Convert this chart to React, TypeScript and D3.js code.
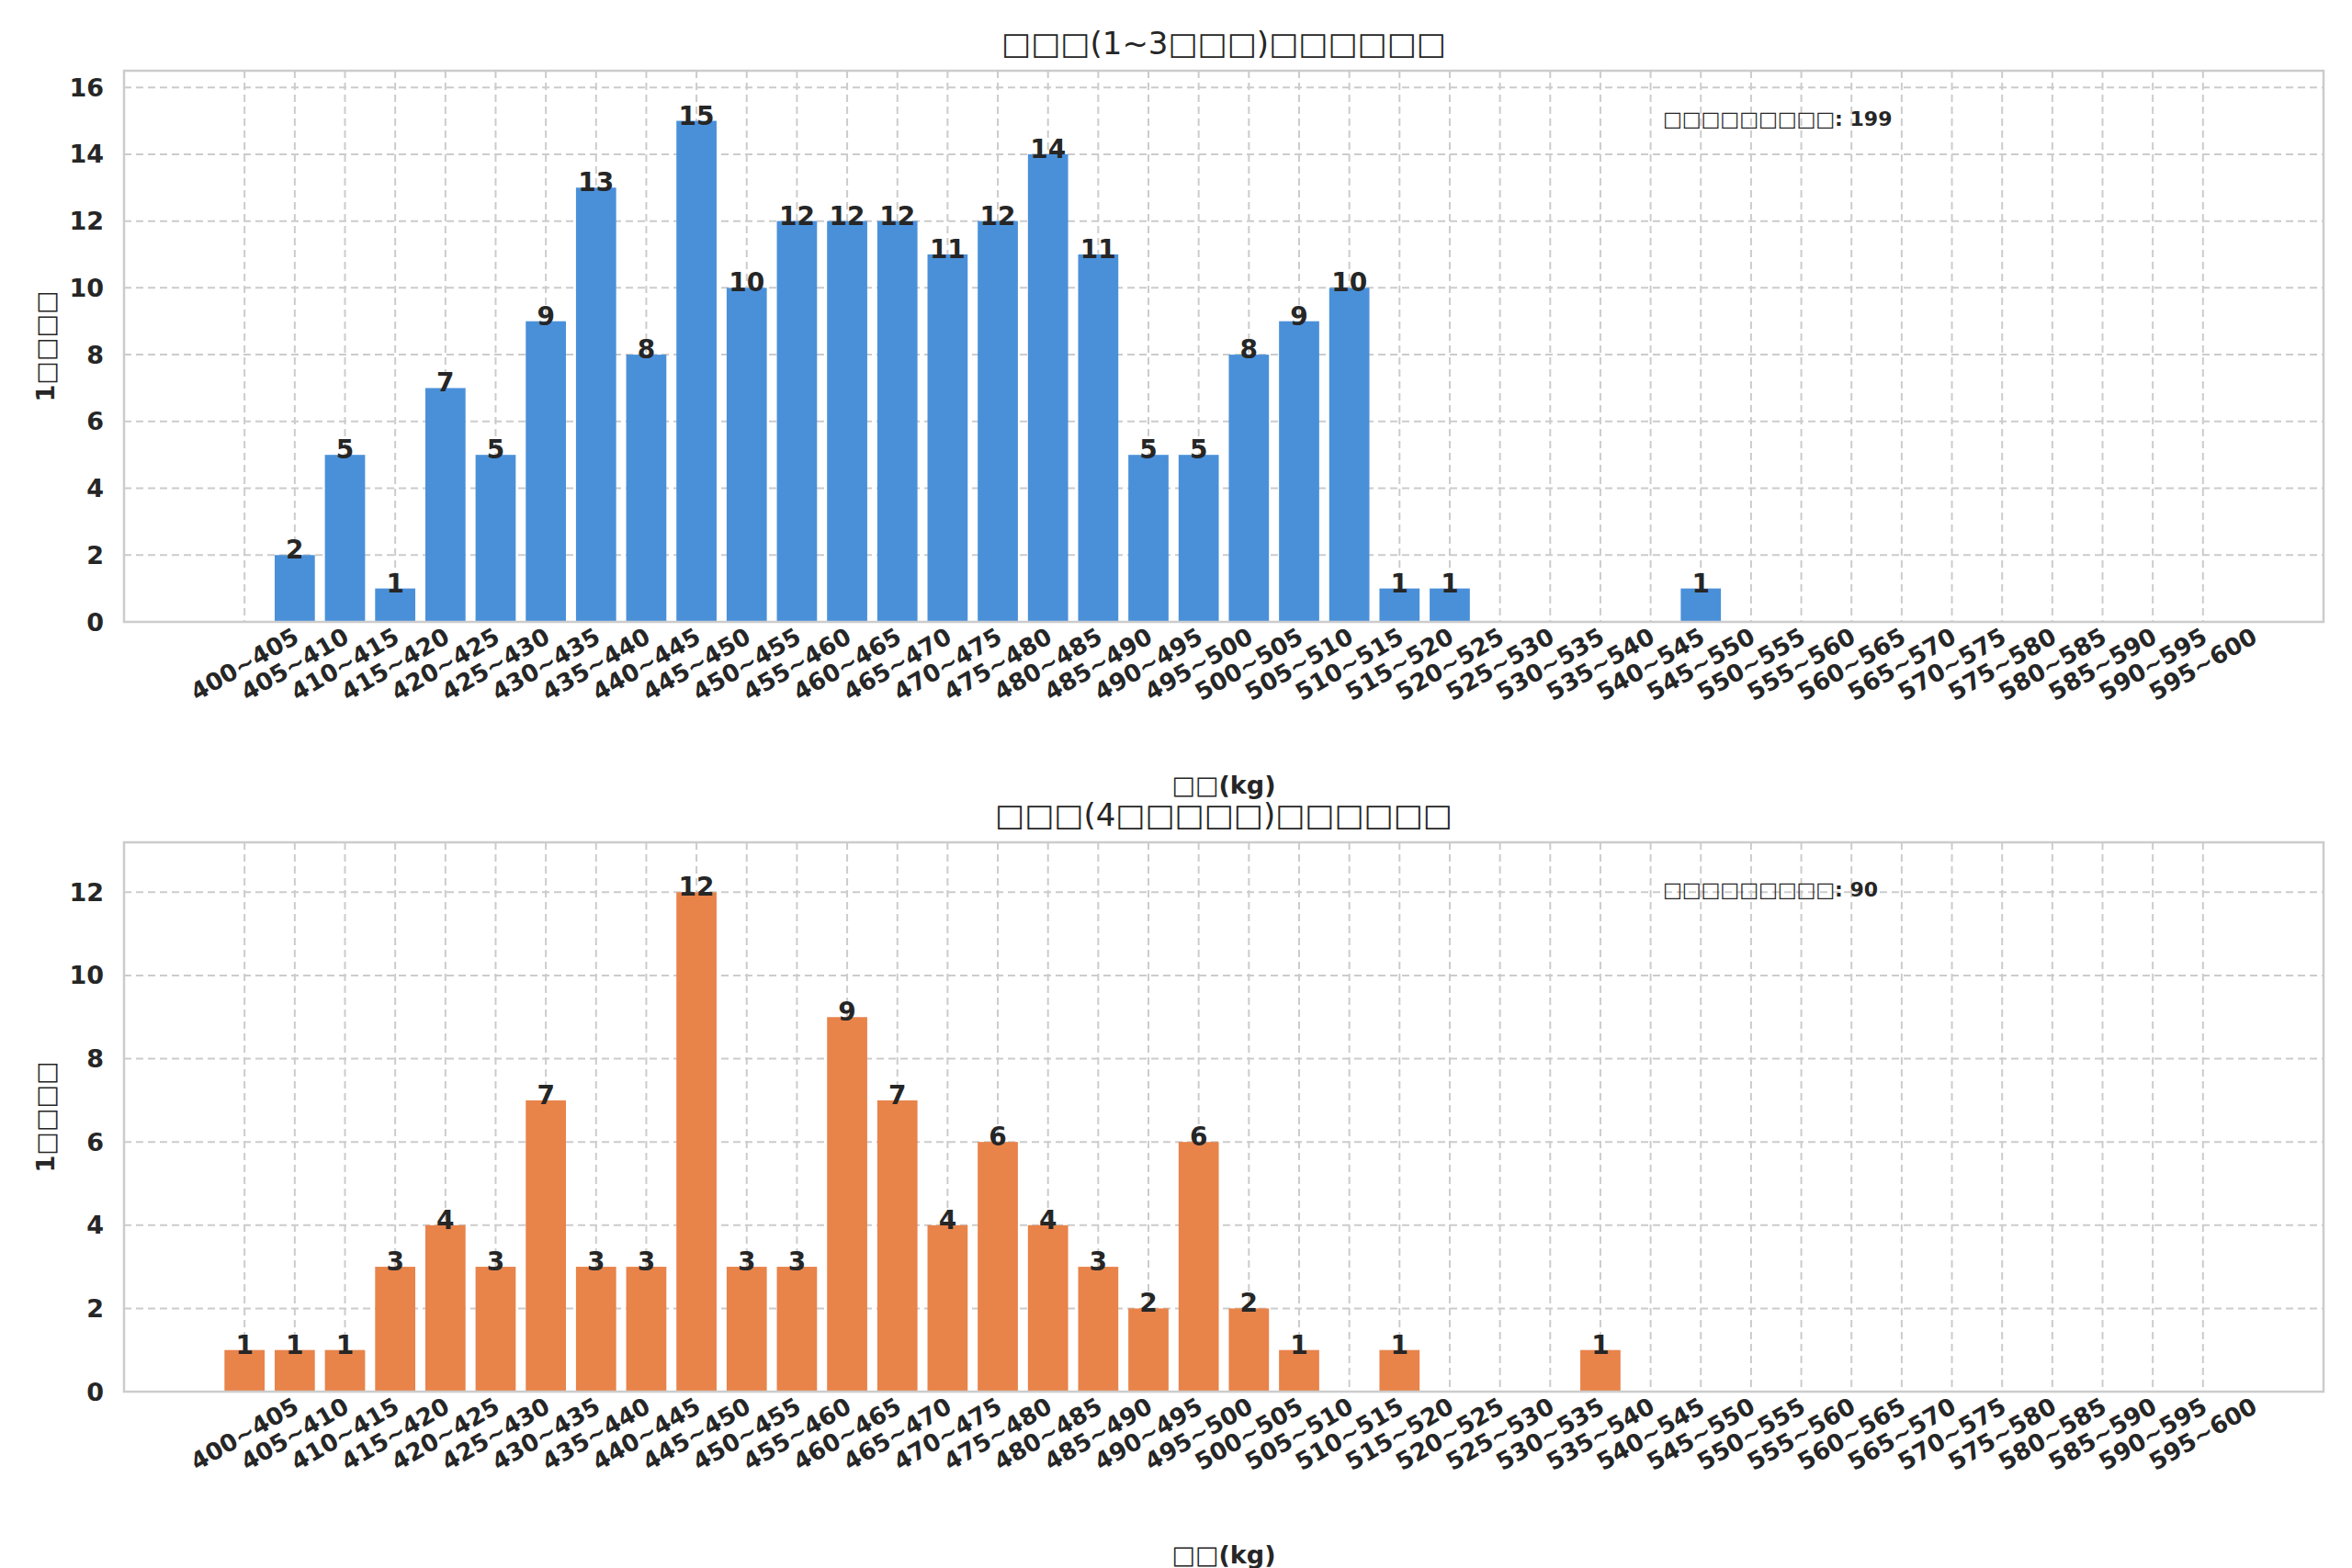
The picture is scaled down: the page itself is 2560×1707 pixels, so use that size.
import React from "react";
import * as d3 from "d3";

const categories: string[] = d3.range(40).map((i) => `${400 + i * 5}~${405 + i * 5}`);
const topValues: number[] = [0,2,5,1,7,5,9,13,8,15,10,12,12,12,11,12,14,11,5,5,8,9,10,1,1,0,0,0,0,1,0,0,0,0,0,0,0,0,0,0];
const bottomValues: number[] = [1,1,1,3,4,3,7,3,3,12,3,3,9,7,4,6,4,3,2,6,2,1,0,1,0,0,0,1,0,0,0,0,0,0,0,0,0,0,0,0];
const topYTicks = [0,2,4,6,8,10,12,14,16];
const bottomYTicks = [0,2,4,6,8,10,12];
const T = "\u25A1";
const box = (n: number) => T.repeat(n);

const FONT = "'DejaVu Sans', sans-serif";
const W = 2560, H = 1707;
const L = 135, R = 2529;

function Panel({ values, top, bottom, ymax, yticks, color, title, ann, annY }: any) {
  const x = d3.scaleLinear().domain([-2.4, 41.4]).range([L, R]);
  const y = d3.scaleLinear().domain([0, ymax]).range([bottom, top]);
  const bw = x(0.8) - x(0);
  return (
    <g>
      <text x={(L + R) / 2} y={top - 18} textAnchor="middle" fontSize={34} fill="#262626" fontFamily={FONT}>{title}</text>
      {categories.map((c, i) => (
        <line key={"v" + i} x1={x(i)} x2={x(i)} y1={top} y2={bottom} stroke="#cccccc" strokeWidth={2} strokeDasharray="8,5" />
      ))}
      {yticks.map((t: number) => (
        <line key={"h" + t} x1={L} x2={R} y1={y(t)} y2={y(t)} stroke="#cccccc" strokeWidth={2} strokeDasharray="8,5" />
      ))}
      {values.map((v: number, i: number) => v > 0 ? (
        <g key={"b" + i}>
          <rect x={x(i) - bw / 2} y={y(v)} width={bw} height={y(0) - y(v)} fill={color} />
          <text x={x(i)} y={y(v) + 4} textAnchor="middle" fontSize={28} fontWeight="bold" fill="#262626" fontFamily={FONT}>{v}</text>
        </g>
      ) : null)}
      <rect x={L} y={top} width={R - L} height={bottom - top} fill="none" stroke="#cccccc" strokeWidth={2.5} />
      {yticks.map((t: number) => (
        <text key={"yt" + t} x={L - 22} y={y(t)} textAnchor="end" dominantBaseline="central" fontSize={27} fontWeight="bold" fill="#262626" fontFamily={FONT}>{t}</text>
      ))}
      {categories.map((c, i) => (
        <text key={"xt" + i} transform={`translate(${x(i)},${bottom + 46}) rotate(-30)`} textAnchor="middle" dominantBaseline="central" fontSize={26} fontWeight="bold" fill="#262626" fontFamily={FONT}>{c}</text>
      ))}
      <text x={(L + R) / 2} y={bottom + 72 + 115} textAnchor="middle" fontSize={27} fontWeight="bold" fill="#262626" fontFamily={FONT}>{box(2)}(kg)</text>
      <text transform={`translate(49,${(top + bottom) / 2}) rotate(-90)`} textAnchor="middle" dominantBaseline="central" fontSize={27} fontWeight="bold" fill="#262626" fontFamily={FONT}>1{box(4)}</text>
      <text x={1810} y={annY} dominantBaseline="central" fontSize={22} fontWeight="bold" fill="#262626" fontFamily={FONT}>{box(9)}: {ann}</text>
    </g>
  );
}

export default function App() {
  return (
    <svg width={W} height={H} style={{ position: "absolute", left: 0, top: 0, background: "#fff" }}>
      <rect width={W} height={H} fill="#fff" />
      <Panel values={topValues} top={77} bottom={677} ymax={16.5} yticks={topYTicks} color="#4a90d9"
        title={`${box(3)}(1~3${box(3)})${box(6)}`} ann={199} annY={129} />
      <Panel values={bottomValues} top={917} bottom={1515} ymax={13.2} yticks={bottomYTicks} color="#e8834a"
        title={`${box(3)}(4${box(5)})${box(6)}`} ann={90} annY={968} />
    </svg>
  );
}
